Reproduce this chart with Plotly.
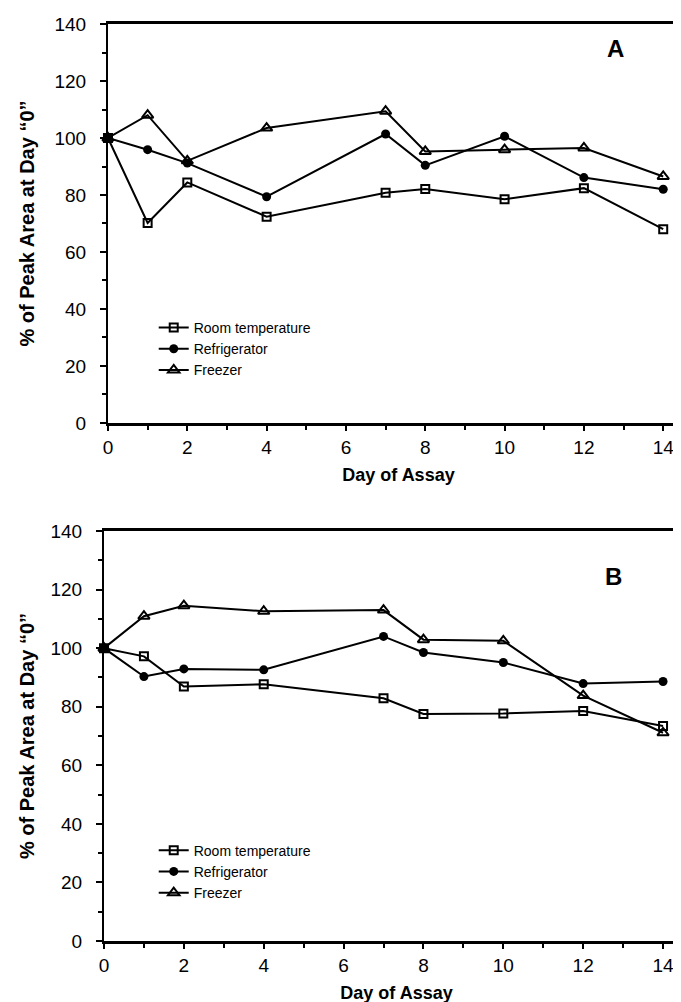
import plotly.graph_objects as go

days = [0, 1, 2, 4, 7, 8, 10, 12, 14]
series_names = ["Room temperature", "Refrigerator", "Freezer"]

# Panel A
a_room = [100, 70.2, 84.4, 72.4, 80.8, 82.1, 78.5, 82.4, 68.0]
a_refrig = [100, 95.9, 91.2, 79.4, 101.4, 90.4, 100.6, 86.1, 82.0]
a_freezer = [100, 108.0, 92.0, 103.5, 109.4, 95.3, 95.9, 96.5, 86.5]

# Panel B
b_room = [100, 97.2, 86.9, 87.7, 82.9, 77.5, 77.7, 78.5, 73.4]
b_refrig = [100, 90.3, 92.9, 92.6, 104.0, 98.5, 95.1, 87.9, 88.6]
b_freezer = [100, 110.9, 114.5, 112.6, 113.0, 102.9, 102.5, 83.8, 71.1]

y_ticks = [0, 20, 40, 60, 80, 100, 120, 140]
x_ticks = [0, 2, 4, 6, 8, 10, 12, 14]
x_title = "Day of Assay"
y_title = "% of Peak Area at Day \u201c0\u201d"
panel_labels = ["A", "B"]

FONT = "Liberation Sans, Arial, Helvetica, sans-serif"
markers = [
    dict(symbol="square-open", size=8, color="black", line=dict(width=2, color="black")),
    dict(symbol="circle", size=9, color="black", line=dict(width=0)),
    dict(symbol="triangle-up-open", size=10, color="black", line=dict(width=2, color="black")),
]

fig = go.Figure()
panels = [
    (a_room, a_refrig, a_freezer, "x", "y", "legend"),
    (b_room, b_refrig, b_freezer, "x2", "y2", "legend2"),
]
for vals3, xa, ya, lg in [(p[:3], p[3], p[4], p[5]) for p in panels]:
    for name, vals, mk in zip(series_names, vals3, markers):
        fig.add_trace(go.Scatter(
            x=days, y=vals, name=name, mode="lines+markers",
            line=dict(color="black", width=2), marker=mk,
            xaxis=xa, yaxis=ya, legend=lg, cliponaxis=False,
        ))

xaxis_common = dict(
    range=[0, 14.65], tickvals=x_ticks, ticks="outside", ticklen=5, tickwidth=2,
    tickcolor="black", showline=True, linecolor="black", linewidth=2.5, mirror=True,
    showgrid=False, zeroline=False,
    minor=dict(tickvals=list(range(0, 15)), ticks="outside", ticklen=4, tickwidth=1.5, tickcolor="black"),
    tickfont=dict(family=FONT, size=19, color="black"),
    title=dict(text=f"<b>{x_title}</b>", font=dict(family=FONT, size=18, color="black"), standoff=12),
)
yaxis_common = dict(
    range=[0, 140], tickvals=y_ticks, ticks="outside", ticklen=6, tickwidth=2,
    tickcolor="black", showline=True, linecolor="black", linewidth=2,
    showgrid=False, zeroline=False, ticklabelstandoff=10,
    minor=dict(tickvals=list(range(0, 141, 10)), ticks="outside", ticklen=4, tickwidth=1.5, tickcolor="black"),
    tickfont=dict(family=FONT, size=19, color="black"),
)

legend_common = dict(xanchor="left", yanchor="top", bgcolor="rgba(0,0,0,0)",
                     font=dict(family=FONT, size=14, color="black"), tracegroupgap=0, itemwidth=30)

fig.update_layout(
    width=681, height=1002,
    margin=dict(l=96, r=0, t=16, b=69),
    paper_bgcolor="white", plot_bgcolor="white",
    xaxis=dict(domain=[0.0068, 1], anchor="y", **xaxis_common),
    yaxis=dict(domain=[0.5649, 1], anchor="x", **yaxis_common),
    xaxis2=dict(domain=[0, 1], anchor="y2", **xaxis_common),
    yaxis2=dict(domain=[0, 0.4471], anchor="x2", **yaxis_common),
    legend=dict(x=0.085, y=0.686, **legend_common),
    legend2=dict(x=0.085, y=0.116, **legend_common),
    showlegend=True,
)

for ya, xa, lab, lx, ly in [("y", "x", panel_labels[0], 12.8, 131.5), ("y2", "x2", panel_labels[1], 12.75, 124.5)]:
    fig.add_annotation(x=lx, y=ly, xref=xa, yref=ya, text=f"<b>{lab}</b>", showarrow=False,
                       font=dict(family=FONT, size=24, color="black"))
    fig.add_annotation(x=0, y=0.5, xref="paper", yref=f"{ya} domain", xshift=-90, text=f"<b>{y_title}</b>",
                       textangle=-90, showarrow=False, font=dict(family=FONT, size=20, color="black"))

fig.write_html("out.html")
